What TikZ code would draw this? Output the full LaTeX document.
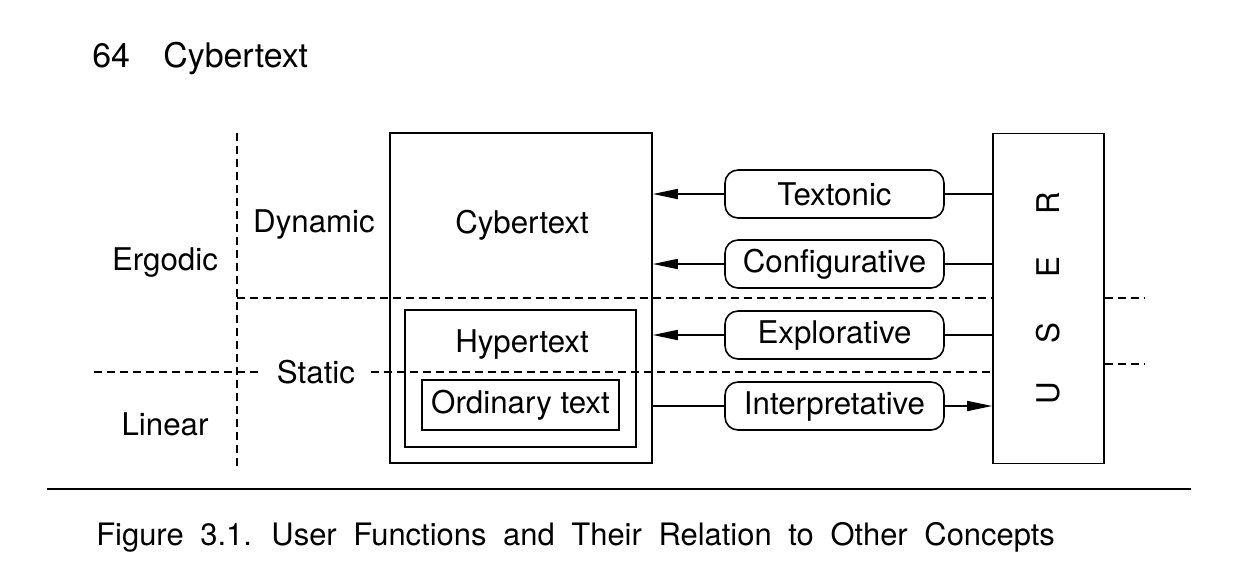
\documentclass[tikz,border=0pt]{standalone}
\usepackage{fontspec}
\setmainfont{TeX Gyre Heros}
\usetikzlibrary{arrows.meta}

\begin{document}
\begin{tikzpicture}[x=0.02cm, y=-0.02cm,
    frame/.style={draw, line width=1pt, inner sep=0pt},
    func/.style={draw, line width=0.9pt, rounded corners=0.26cm, minimum width=4.38cm, minimum height=0.96cm, inner sep=0pt},
    arr/.style={-{Triangle[length=0.5cm, width=0.2cm]}, line width=1pt},
    link/.style={line width=1pt},
    grid/.style={line width=0.8pt, dash pattern=on 0.16cm off 0.1cm},
    every node/.style={font=\fontsize{17.8}{20}\selectfont}
]
\useasboundingbox (0,0) rectangle (1240,579);

% running head
\node[anchor=base west, inner sep=0pt, font=\fontsize{19.3}{22}\selectfont] (pagenum) at (92,67) {64};
\node[anchor=base west, inner sep=0pt, font=\fontsize{19.3}{22}\selectfont] (runhead) at (163,67) {Cybertext};

% text types
\node[frame, minimum width=5.24cm, minimum height=6.6cm] (cyber) at (521,298) {};
\node[frame, minimum width=4.62cm, minimum height=2.74cm] (hyper) at (520.5,378.5) {};
\node[frame, minimum width=3.94cm, minimum height=1.0cm] (ordinary) at (520.5,405) {Ordinary text};
\node[anchor=base] (cyberlabel) at (522,233) {Cybertext};
\node[anchor=base] (hyperlabel) at (522,352) {Hypertext};

% user
\node[frame, minimum width=2.22cm, minimum height=6.6cm] (user) at (1048.5,298.5) {};
\foreach \ch/\py in {U/393, S/333, E/267, R/203}
    \node[rotate=90] (user\ch) at (1048,\py) {\ch};

% user functions
\node[func] (textonic) at (834.5,194) {Textonic};
\node[func] (config) at (834.5,264) {Configurative};
\node[func] (explor) at (834.5,335) {Explorative};
\node[func] (interp) at (834.5,406) {Interpretative};

\draw[link] (user.west |- textonic) -- (textonic);
\draw[arr] (textonic) -- (cyber.east |- textonic);
\draw[link] (user.west |- config) -- (config);
\draw[arr] (config) -- (cyber.east |- config);
\draw[link] (user.west |- explor) -- (explor);
\draw[arr] (explor) -- (cyber.east |- explor);
\draw[link] (cyber.east |- interp) -- (interp);
\draw[arr] (interp) -- (user.west |- interp);

% axes
\node[anchor=base] (ergodic) at (165,270) {Ergodic};
\node[anchor=base] (linear) at (165,435) {Linear};
\node[anchor=base] (dynamic) at (314,232) {Dynamic};
\node[inner xsep=0.32cm] (static) at (316,372) {Static};

\coordinate (axtop) at (237,133);
\coordinate (axbot) at (237,466);
\coordinate (dyn) at (237,298);
\coordinate (linstart) at (94,372);
\coordinate (dynR) at (1145,298);
\coordinate (statR) at (1145,364);

\draw[grid] (axtop) -- (axbot);
\draw[grid] (dyn) -- (dyn -| user.west);
\draw[grid] (linstart) -- (static.west);
\draw[grid] (static.east) -- (static -| user.west);
\draw[grid] (user.east |- dynR) -- (dynR);
\draw[grid] (user.east |- statR) -- (statR);

% caption
\draw[line width=1pt] (47,489) -- (1191,489);
\node[anchor=base west, inner sep=0pt, font=\fontsize{17.6}{20}\selectfont] (caption) at (96,545)
    {\spaceskip=0.54em\relax Figure 3.1. User Functions and Their Relation to Other Concepts};

\end{tikzpicture}
\end{document}
